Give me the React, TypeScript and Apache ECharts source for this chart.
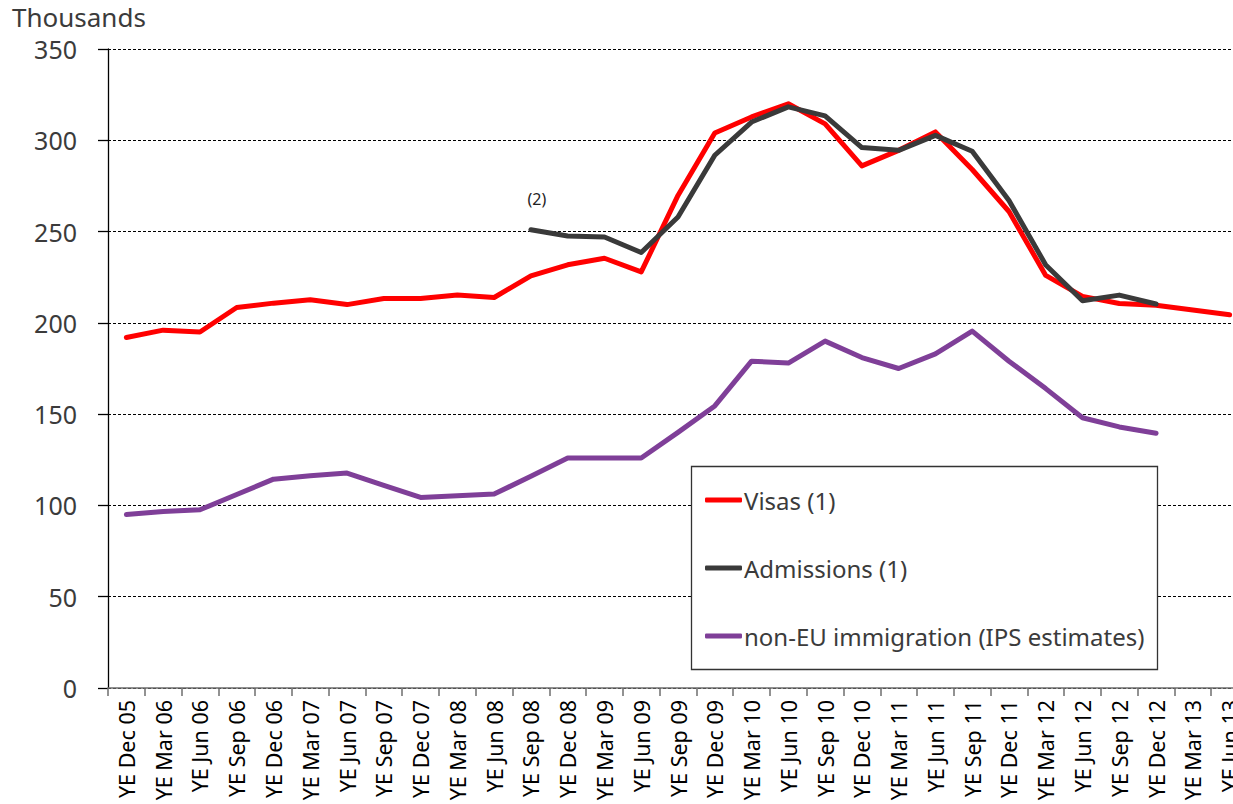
import React, { useEffect, useRef } from "react";
import * as echarts from "echarts";

const categories = [
  "YE Dec 05", "YE Mar 06", "YE Jun 06", "YE Sep 06", "YE Dec 06", "YE Mar 07", "YE Jun 07", "YE Sep 07",
  "YE Dec 07", "YE Mar 08", "YE Jun 08", "YE Sep 08", "YE Dec 08", "YE Mar 09", "YE Jun 09", "YE Sep 09",
  "YE Dec 09", "YE Mar 10", "YE Jun 10", "YE Sep 10", "YE Dec 10", "YE Mar 11", "YE Jun 11", "YE Sep 11",
  "YE Dec 11", "YE Mar 12", "YE Jun 12", "YE Sep 12", "YE Dec 12", "YE Mar 13", "YE Jun 13",
];

const visas = [
  192, 196, 195, 208.4, 210.8, 212.6, 210, 213.3, 213.3, 215.3, 213.9, 225.7, 231.8, 235.4, 227.9, 269.8,
  304, 312.8, 320, 309, 286, 294.5, 304.6, 284, 261, 226, 214.5, 210.6, 209.7, 207, 204.4,
];

const admissions = [
  null, null, null, null, null, null, null, null, null, null, null, 251, 247.6, 247, 238.5, 258,
  291.8, 310, 318.3, 313.4, 296, 294.5, 302.7, 294, 267, 231.7, 212.1, 215.2, 210.3, null, null,
];

const nonEU = [
  95, 96.7, 97.6, 106, 114.4, 116.3, 117.7, 111, 104.4, 105.3, 106.2, 116, 126, 126, 126, 140,
  154.5, 179, 178, 190, 181, 175, 183, 195.5, 179, 164, 148, 143, 139.5, null, null,
];

const seriesNames = ["Visas (1)", "Admissions (1)", "non-EU immigration (IPS estimates)"];
const seriesColors = ["#ff0000", "#3a3a3a", "#7f3f98"];
const noteLabel = "(2)";
const noteCategory = "YE Sep 08";
const noteValue = 251;

const FONT = "Noto Sans";

export default function App() {
  const ref = useRef<HTMLDivElement>(null);

  useEffect(() => {
    if (!ref.current) return;
    const chart = echarts.init(ref.current, null, { renderer: "svg" });
    const dataSets = [visas, admissions, nonEU];
    chart.setOption({
      animation: false,
      backgroundColor: "#ffffff",
      title: {
        text: "Thousands",
        left: 12,
        top: 5,
        padding: 0,
        textStyle: { fontFamily: FONT, fontSize: 26, lineHeight: 24, fontWeight: "normal", color: "#3b3b3b" },
      },
      grid: { left: 108, right: 2, top: 49, bottom: 116, containLabel: false },
      legend: {
        orient: "vertical",
        left: 705,
        top: 487,
        padding: 0,
        itemGap: 42,
        itemWidth: 37,
        itemHeight: 5,
        icon: "roundRect",
        z: 6,
        data: seriesNames,
        textStyle: { fontFamily: FONT, fontSize: 24, color: "#3b3b3b", lineHeight: 26, padding: [0, 0, 0, -3] },
      },
      graphic: [
        {
          type: "rect",
          z: 5,
          shape: { x: 691.5, y: 466.5, width: 466, height: 203 },
          style: { fill: "#ffffff", stroke: "#333333", lineWidth: 1.3 },
        },
      ],
      xAxis: {
        type: "category",
        data: categories,
        boundaryGap: true,
        axisLine: { lineStyle: { color: "#6e6e6e", width: 1.5 } },
        axisTick: { show: true, length: 8, alignWithLabel: false, lineStyle: { color: "#6e6e6e", width: 1.5 } },
        axisLabel: {
          rotate: 90,
          interval: 0,
          margin: 12,
          fontFamily: FONT,
          fontSize: 21.5,
          color: "#000000",
        },
        splitLine: { show: false },
      },
      yAxis: {
        type: "value",
        min: 0,
        max: 350,
        interval: 50,
        axisLine: { show: true, lineStyle: { color: "#000000", width: 1.3 } },
        axisTick: { show: true, length: 10, lineStyle: { color: "#000000", width: 1.3 } },
        axisLabel: { margin: 31, fontFamily: FONT, fontSize: 25, lineHeight: 22, color: "#3b3b3b" },
        splitLine: { show: true, lineStyle: { color: "#000000", type: [3, 2], width: 1 } },
      },
      series: seriesNames.map((name, i) => ({
        name,
        type: "line",
        data: dataSets[i],
        showSymbol: false,
        symbol: "none",
        connectNulls: false,
        z: i === 1 ? 3 : 2,
        lineStyle: { color: seriesColors[i], width: 5, cap: "round", join: "round" },
        itemStyle: { color: seriesColors[i] },
        markPoint:
          i === 1
            ? {
                symbol: "circle",
                symbolSize: 0,
                data: [{ coord: [noteCategory, noteValue] }],
                label: {
                  show: true,
                  formatter: noteLabel,
                  position: "inside",
                  offset: [6, -31],
                  fontFamily: FONT,
                  fontSize: 16,
                  color: "#222222",
                },
              }
            : undefined,
      })),
    });
    return () => chart.dispose();
  }, []);

  return (
    <div style={{ position: "absolute", left: 0, top: 0, width: 1233, height: 804, overflow: "hidden" }}>
      <div ref={ref} style={{ position: "absolute", left: 0, top: 0, width: 1250, height: 804 }} />
    </div>
  );
}
